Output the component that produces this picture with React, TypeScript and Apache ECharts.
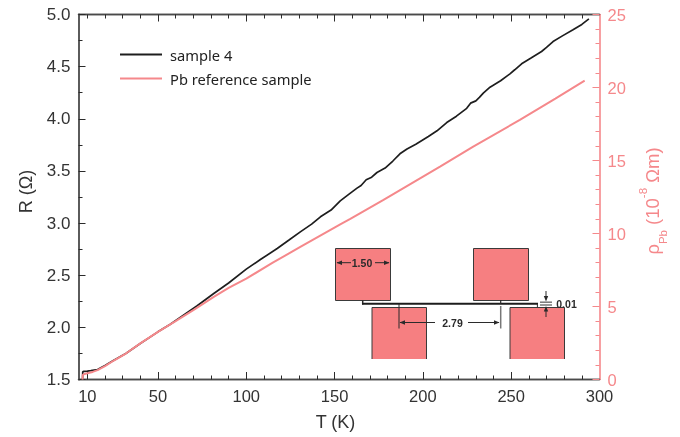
import React, { useEffect, useRef } from "react";
import * as echarts from "echarts";

const temps = [7.3, 7.4, 8, 10, 12, 15.8, 20, 25, 31.8, 40, 50, 57, 63.8, 72, 81.6, 90, 100, 108, 117.5, 124, 130.6, 137, 142, 148, 153.2, 158, 162.7, 165, 167.9, 171, 174, 178.6, 183, 187, 191, 196, 203.1, 208, 213.5, 219, 224.8, 227, 230, 232, 234.2, 238, 244, 249.3, 252, 255.9, 261, 267.2, 270, 273.7, 279, 285, 290, 294];
const sample4 = [1.5, 1.574, 1.578, 1.58, 1.585, 1.596, 1.635, 1.685, 1.75, 1.845, 1.957, 2.03, 2.11, 2.205, 2.325, 2.425, 2.558, 2.65, 2.756, 2.835, 2.916, 2.99, 3.06, 3.125, 3.213, 3.275, 3.335, 3.36, 3.415, 3.44, 3.485, 3.527, 3.595, 3.664, 3.71, 3.755, 3.83, 3.885, 3.964, 4.025, 4.1, 4.15, 4.172, 4.205, 4.246, 4.303, 4.365, 4.431, 4.47, 4.527, 4.58, 4.645, 4.685, 4.741, 4.795, 4.853, 4.905, 4.958];

const pbTemps = [7.3, 7.4, 8, 10, 13, 15.8, 20, 25, 31.8, 40, 50, 60, 70, 81.6, 90, 100, 115, 130.6, 153.2, 158.9, 177.7, 209.7, 228.5, 254.9, 275, 291.6];
const pbRho = [0, 0.3, 0.36, 0.43, 0.52, 0.64, 0.92, 1.3, 1.78, 2.47, 3.26, 4.0, 4.75, 5.66, 6.27, 6.91, 8.0, 9.08, 10.63, 11.0, 12.3, 14.58, 15.95, 17.78, 19.24, 20.47];

const xLabels = [10, 50, 100, 150, 200, 250, 300];
const xMinor = [20, 30, 40, 60, 70, 80, 90, 110, 120, 130, 140, 160, 170, 180, 190, 210, 220, 230, 240, 260, 270, 280, 290];
const xMajorBottom = [10, 50, 100, 150, 200, 250];
const xMajorTop = [50, 100, 150, 200, 250];
const xMinorTop = [10, 20, 30, 40, 60, 70, 80, 90, 110, 120, 130, 140, 160, 170, 180, 190, 210, 220, 230, 240, 260, 270, 280, 290];

const INK = "#2b2b2b";
const SPINE = "#4a4a4a";
const PINK = "#f5888b";
const FILL = "#f67f81";
const FONT = "'Liberation Sans', Arial, sans-serif";
const LEGEND_FONT = "'Noto Sans', sans-serif";

const seg = (x1: number, y1: number, x2: number, y2: number, stroke = INK, lineWidth = 1) => ({
  type: "line",
  shape: { x1, y1, x2, y2 },
  style: { stroke, lineWidth },
});
const tri = (pts: number[][]) => ({ type: "polygon", shape: { points: pts }, style: { fill: INK } });
const label = (x: number, y: number, text: string) => ({
  type: "text",
  x,
  y,
  style: { text, fill: INK, font: `bold 10.5px ${FONT}`, textAlign: "center", textVerticalAlign: "middle" },
});
const pad = (x: number, y: number, w: number, h: number) => ({
  type: "rect",
  shape: { x, y, width: w, height: h },
  style: { fill: FILL, stroke: "#3a3a3a", lineWidth: 1 },
});
const openPad = (x: number, y: number, w: number, h: number) => [
  { type: "rect", shape: { x, y, width: w, height: h }, style: { fill: FILL } },
  { type: "polyline", shape: { points: [[x, y + h], [x, y], [x + w, y], [x + w, y + h]] }, style: { stroke: "#3a3a3a", lineWidth: 1, fill: "none" } },
];

const inset = [
  pad(335.5, 248.5, 55, 52),
  pad(473.5, 248.5, 55, 52),
  ...openPad(372, 307.5, 54.5, 51.5),
  ...openPad(510, 307.5, 54.5, 51.5),
  seg(362.7, 300, 362.7, 304.5, INK, 1.5),
  seg(362, 303.8, 538, 303.8, "#1c1c1c", 2),
  seg(399, 303.8, 399, 328.5, INK, 1),
  seg(500.7, 300, 500.7, 304, INK, 1.2),
  seg(500.7, 306, 500.7, 328.5, "#777", 1.5),
  seg(537.4, 303.8, 537.4, 307.5, INK, 1),
  seg(337, 262.7, 351, 262.7),
  tri([[336.5, 262.7], [342, 260.5], [342, 264.9]]),
  label(362, 262.7, "1.50"),
  seg(375, 262.7, 389, 262.7),
  tri([[389.5, 262.7], [384, 260.5], [384, 264.9]]),
  seg(400, 322.5, 435, 322.5),
  tri([[399.5, 322.5], [405, 320.3], [405, 324.7]]),
  label(452.5, 322.5, "2.79"),
  seg(468, 322.5, 499, 322.5),
  tri([[499.5, 322.5], [494, 320.3], [494, 324.7]]),
  seg(540, 302.2, 552, 302.2, "#777", 1.5),
  seg(540, 305, 552, 305, "#777", 1.5),
  seg(546, 291, 546, 298),
  tri([[546, 301.5], [543.8, 296], [548.2, 296]]),
  seg(546, 310, 546, 317),
  tri([[546, 306], [543.8, 311.5], [548.2, 311.5]]),
  label(566.5, 303.5, "0.01"),
];

const xAxisBase = (position: string, show: boolean, ticks: number[], length: number) => ({
  type: "value",
  min: 5,
  max: 300,
  position,
  axisLine: { show: true, onZero: false, lineStyle: { color: SPINE, width: 1.4 } },
  splitLine: { show: false },
  axisTick: { show: true, inside: true, length, customValues: ticks, lineStyle: { color: INK, width: 1 } },
  axisLabel: show
    ? { show: true, customValues: xLabels, margin: 8, fontSize: 16.5, color: "#333", fontFamily: FONT, hideOverlap: false, showMinLabel: true, showMaxLabel: true }
    : { show: false },
});

export default function App() {
  const ref = useRef<HTMLDivElement>(null);
  useEffect(() => {
    const chart = echarts.init(ref.current!, null, { renderer: "svg" });
    chart.setOption({
      animation: false,
      textStyle: { fontFamily: FONT },
      grid: { left: 78.5, right: 80.5, top: 14.5, bottom: 57.5, containLabel: false },
      legend: {
        data: ["sample 4", "Pb reference sample"],
        orient: "vertical",
        left: 119,
        top: 47,
        padding: 0,
        itemWidth: 42,
        itemHeight: 14,
        itemGap: 9,
        itemStyle: { opacity: 0 },
        textStyle: { fontSize: 14.7, color: "#222", fontFamily: LEGEND_FONT, padding: [0, 0, 0, 3] },
      },
      xAxis: [
        {
          ...xAxisBase("bottom", true, xMajorBottom, 7.5),
          name: "T (K)",
          nameLocation: "middle",
          nameGap: 33,
          nameTextStyle: { fontSize: 18, color: "#333", fontFamily: FONT, padding: [0, 7, 0, 0] },
        },
        xAxisBase("bottom", false, xMinor, 4),
        xAxisBase("top", false, xMajorTop, 7),
        xAxisBase("top", false, xMinorTop, 4),
      ],
      yAxis: [
        {
          type: "value",
          min: 1.5,
          max: 5,
          interval: 0.5,
          position: "left",
          name: "R (Ω)",
          nameLocation: "middle",
          nameGap: 44,
          nameRotate: 90,
          nameTextStyle: { fontSize: 18, color: "#333", fontFamily: FONT, padding: [0, 0, 0, 11] },
          axisLine: { show: true, onZero: false, lineStyle: { color: SPINE, width: 1.8 } },
          splitLine: { show: false },
          axisTick: { show: true, inside: true, length: 7, lineStyle: { color: INK } },
          minorTick: { show: true, splitNumber: 2, length: 4, lineStyle: { color: INK } },
          axisLabel: { margin: 8, fontSize: 17, color: "#333", fontFamily: FONT, formatter: (v: number) => v.toFixed(1) },
        },
        {
          type: "value",
          min: 0,
          max: 25,
          interval: 5,
          position: "right",
          name: "{a|ρ}{s|Pb}{a| (10}{u|-8}{a| Ωm)}",
          nameLocation: "middle",
          nameGap: 33,
          nameRotate: 90,
          nameTextStyle: {
            color: PINK,
            padding: [0, 8, 0, 0],
            rich: {
              a: { fontSize: 18.5, color: PINK, fontFamily: FONT, lineHeight: 32, verticalAlign: "middle" },
              s: { fontSize: 11.5, color: PINK, fontFamily: FONT, lineHeight: 32, verticalAlign: "bottom" },
              u: { fontSize: 11.5, color: PINK, fontFamily: FONT, lineHeight: 32, verticalAlign: "top" },
            },
          },
          axisLine: { show: true, onZero: false, lineStyle: { color: PINK, width: 1.6 } },
          splitLine: { show: false },
          axisTick: { show: true, inside: true, length: 7, lineStyle: { color: PINK } },
          minorTick: { show: true, splitNumber: 5, length: 4, lineStyle: { color: PINK } },
          axisLabel: { margin: 8, fontSize: 16.5, color: PINK, fontFamily: FONT },
        },
      ],
      series: [
        {
          name: "sample 4",
          type: "line",
          xAxisIndex: 0,
          yAxisIndex: 0,
          showSymbol: false,
          symbol: "none",
          lineStyle: { color: "#1e1e1e", width: 1.7 },
          itemStyle: { color: "#1e1e1e" },
          data: temps.map((t, i) => [t, sample4[i]]),
        },
        {
          name: "Pb reference sample",
          type: "line",
          xAxisIndex: 0,
          yAxisIndex: 1,
          showSymbol: false,
          symbol: "none",
          lineStyle: { color: PINK, width: 2 },
          itemStyle: { color: PINK },
          data: pbTemps.map((t, i) => [t, pbRho[i]]),
        },
      ],
      graphic: inset,
    });
    return () => chart.dispose();
  }, []);
  return <div ref={ref} style={{ width: 680, height: 437, position: "fixed", left: 0, top: 0 }} />;
}
